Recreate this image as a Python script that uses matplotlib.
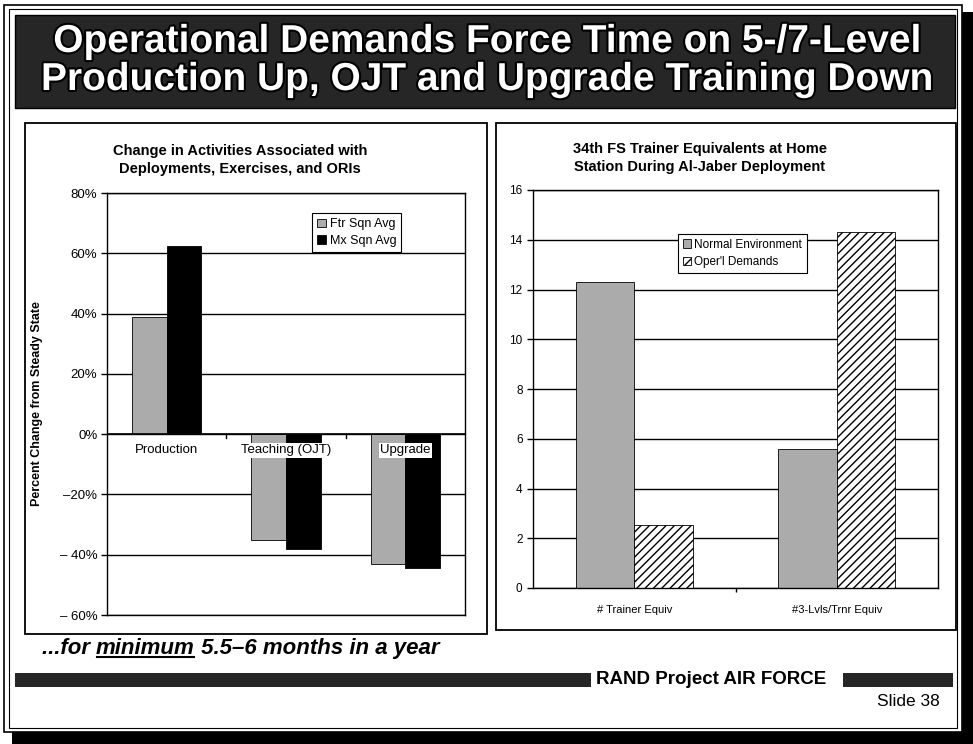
import matplotlib
matplotlib.use("Agg")
import matplotlib.pyplot as plt
import matplotlib.patheffects as pe
from matplotlib.patches import Rectangle
import numpy as np

# data
left_cats = ["Production", "Teaching (OJT)", "Upgrade"]
ftr_sqn_avg = [0.39, -0.35, -0.43]
mx_sqn_avg = [0.625, -0.38, -0.445]
left_ticks = [-0.6, -0.4, -0.2, 0.0, 0.2, 0.4, 0.6, 0.8]
left_ticklabels = ["– 60%", "– 40%", "–20%", "0%", "20%", "40%", "60%", "80%"]

right_cats = ["# Trainer Equiv", "#3-Lvls/Trnr Equiv"]
normal_env = [12.3, 5.6]
operl_demands = [2.55, 14.3]

W, H = 973, 744
plt.rcParams['font.family'] = ['Liberation Sans', 'DejaVu Sans']

fig = plt.figure(figsize=(W / 100, H / 100), dpi=100)
fig.patch.set_facecolor("white")


def px(x0, y0, x1, y1):
    return [x0 / W, 1 - y1 / H, (x1 - x0) / W, (y1 - y0) / H]


# background layer in pixel coords
bg = fig.add_axes([0, 0, 1, 1])
bg.set_xlim(0, W)
bg.set_ylim(H, 0)
bg.axis("off")

# slide frame with shadow
bg.add_patch(Rectangle((12, 12), 961, 732, facecolor="black", lw=0))
bg.add_patch(Rectangle((4, 5), 958, 727, facecolor="white", edgecolor="black", lw=1.2))
bg.add_patch(Rectangle((9, 9), 948, 719, facecolor="none", edgecolor="black", lw=0.8))

# title banner
bg.add_patch(Rectangle((15, 15), 940, 93, facecolor="#262626", edgecolor="black", lw=1))
title_fx = [pe.withStroke(linewidth=3, foreground="black")]
for txt, y in [("Operational Demands Force Time on 5-/7-Level", 42),
               ("Production Up, OJT and Upgrade Training Down", 80)]:
    bg.text(487, y, txt, color="white", fontsize=28, fontweight="bold",
            ha="center", va="center", path_effects=title_fx)

# panel boxes
bg.add_patch(Rectangle((25, 123), 462, 511, facecolor="none", edgecolor="black", lw=1.3))
bg.add_patch(Rectangle((496, 123), 460, 507, facecolor="none", edgecolor="black", lw=1.3))

# panel titles
bg.text(240, 160, "Change in Activities Associated with\nDeployments, Exercises, and ORIs",
        ha="center", va="center", fontsize=10.5, fontweight="bold", linespacing=1.45)
bg.text(700, 158, "34th FS Trainer Equivalents at Home\nStation During Al-Jaber Deployment",
        ha="center", va="center", fontsize=10.5, fontweight="bold", linespacing=1.45)

# ---- left chart ----
ax1 = fig.add_axes(px(107, 193, 465, 615))
x = np.arange(len(left_cats))
w = 0.29
ax1.bar(x - w / 2, ftr_sqn_avg, w, color="#ababab", edgecolor="black", lw=0.6,
        label="Ftr Sqn Avg", zorder=2)
ax1.bar(x + w / 2, mx_sqn_avg, w, color="black", edgecolor="black", lw=0.6,
        label="Mx Sqn Avg", zorder=2)
ax1.set_xlim(-0.5, 2.5)
ax1.set_ylim(-0.6, 0.8)
ax1.set_yticks(left_ticks)
ax1.set_yticklabels(left_ticklabels, fontsize=9.5)
ax1.set_xticks([])
ax1.yaxis.grid(True, color="black", lw=1)
ax1.set_axisbelow(True)
ax1.axhline(0, color="black", lw=1.2, zorder=3)
for b in [0.5, 1.5]:
    ax1.plot([b, b], [0, -0.012], color="black", lw=1, zorder=3)
for i, c in enumerate(left_cats):
    ax1.text(i, -0.053, c, ha="center", va="center", fontsize=9.5, zorder=4,
             bbox=dict(facecolor="white", edgecolor="none", pad=1))
ax1.tick_params(axis="y", length=4, width=1, pad=3)
for s in ax1.spines.values():
    s.set_linewidth(1)
ax1.set_ylabel("Percent Change from Steady State", fontsize=9, fontweight="bold", labelpad=12)
ax1.legend(loc="upper left", bbox_to_anchor=(306 / W, 1 - 207 / H), bbox_transform=fig.transFigure,
           fontsize=9, frameon=True, fancybox=False, edgecolor="black", framealpha=1,
           handlelength=0.7, handleheight=0.7, handletextpad=0.3, borderpad=0.4,
           labelspacing=0.35).get_frame().set_linewidth(0.8)

# ---- right chart ----
ax2 = fig.add_axes(px(533, 190, 938, 588))
x2 = np.arange(len(right_cats))
ax2.bar(x2 - w / 2, normal_env, w, color="#ababab", edgecolor="black", lw=0.6,
        label="Normal Environment", zorder=2)
ax2.bar(x2 + w / 2, operl_demands, w, color="white", edgecolor="black", lw=0.6,
        hatch="////", label="Oper'l Demands", zorder=2)
ax2.set_xlim(-0.5, 1.5)
ax2.set_ylim(0, 16)
ax2.set_yticks(range(0, 17, 2))
ax2.tick_params(axis="y", labelsize=8.5, length=4, width=1)
ax2.set_xticks(x2)
ax2.set_xticklabels(right_cats, fontsize=8)
ax2.tick_params(axis="x", length=0, pad=12)
ax2.set_xticks([0.5], minor=True)
ax2.tick_params(axis="x", which="minor", length=3, width=1)
ax2.yaxis.grid(True, color="black", lw=1)
ax2.set_axisbelow(True)
for s in ax2.spines.values():
    s.set_linewidth(1)
ax2.legend(loc="upper left", bbox_to_anchor=(672 / W, 1 - 228 / H), bbox_transform=fig.transFigure,
           fontsize=8.5, frameon=True, fancybox=False, edgecolor="black", framealpha=1,
           handlelength=0.7, handleheight=0.7, handletextpad=0.3, borderpad=0.4,
           labelspacing=0.45).get_frame().set_linewidth(0.8)

# ---- footer ----
renderer = fig.canvas.get_renderer()
base_y = 654
parts = ["...for ", "minimum", " 5.5–6 months in a year"]
cur_x = 42
for k, p in enumerate(parts):
    t = bg.text(cur_x, base_y, p, fontsize=16, fontweight="bold", style="italic",
                ha="left", va="baseline")
    ext = t.get_window_extent(renderer)
    wpx = ext.width
    if k == 1:
        bg.plot([cur_x + 1, cur_x + wpx - 1], [base_y + 3, base_y + 3], color="black", lw=1.5)
    cur_x += wpx

bg.add_patch(Rectangle((15, 673), 576, 14, facecolor="#262626", lw=0))
bg.text(596, 680, "RAND Project AIR FORCE", fontsize=13.5, fontweight="bold",
        ha="left", va="center")
bg.add_patch(Rectangle((843, 673), 110, 14, facecolor="#262626", lw=0))
bg.text(940, 701, "Slide 38", fontsize=12.5, ha="right", va="center")

fig.savefig("out.png", dpi=100)
